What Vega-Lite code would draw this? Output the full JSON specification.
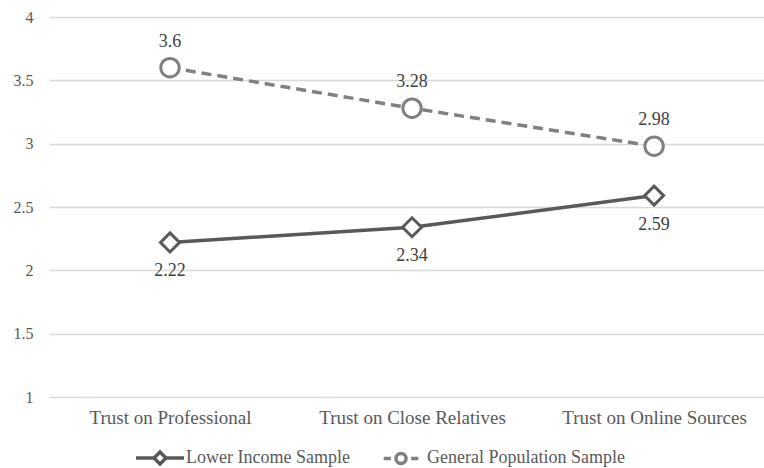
{
  "$schema": "https://vega.github.io/schema/vega-lite/v6.json",
  "width": 715,
  "height": 380,
  "autosize": {"type": "none"},
  "padding": {"left": 49, "top": 17, "right": 0, "bottom": 71},
  "background": "white",
  "config": {"view": {"stroke": null}, "font": "Liberation Serif", "legend": {"labelFont": "Liberation Serif", "labelFontSize": 18, "labelColor": "#595959"}},
  "data": {"values": [
    {"category": "Trust on Professional", "series": "Lower Income Sample", "value": 2.22},
    {"category": "Trust on Close Relatives", "series": "Lower Income Sample", "value": 2.34},
    {"category": "Trust on Online Sources", "series": "Lower Income Sample", "value": 2.59},
    {"category": "Trust on Professional", "series": "General Population Sample", "value": 3.6},
    {"category": "Trust on Close Relatives", "series": "General Population Sample", "value": 3.28},
    {"category": "Trust on Online Sources", "series": "General Population Sample", "value": 2.98}
  ]},
  "encoding": {
    "x": {
      "field": "category", "type": "nominal",
      "sort": ["Trust on Professional", "Trust on Close Relatives", "Trust on Online Sources"],
      "scale": {"type": "point", "padding": 0.477, "align": 0.524},
      "axis": {"title": null, "labelAngle": 0, "domain": false, "ticks": false, "labelPadding": 11, "labelLimit": 400, "labelFont": "Liberation Serif", "labelFontSize": 19, "labelColor": "#595959", "grid": false}
    },
    "y": {
      "field": "value", "type": "quantitative",
      "scale": {"domain": [1, 4], "nice": false, "zero": false},
      "axis": {"title": null, "values": [1, 1.5, 2, 2.5, 3, 3.5, 4], "format": "~g", "domain": false, "ticks": false, "labelPadding": 16, "labelFont": "Liberation Serif", "labelFontSize": 16, "labelColor": "#595959", "grid": true, "gridColor": "#d9d9d9", "gridWidth": 1.3}
    }
  },
  "layer": [
    {
      "transform": [{"filter": "datum.series === 'Lower Income Sample'"}],
      "mark": {"type": "line", "strokeWidth": 3.5, "color": "#595959"},
      "encoding": {}
    },
    {
      "transform": [{"filter": "datum.series === 'General Population Sample'"}],
      "mark": {"type": "line", "strokeWidth": 3.5, "color": "#808080", "strokeDash": [10, 6]},
      "encoding": {}
    },
    {
      "transform": [{"filter": "datum.series === 'Lower Income Sample'"}],
      "mark": {"type": "point", "shape": "diamond", "filled": true, "fill": "white", "stroke": "#595959", "strokeWidth": 3, "opacity": 1, "size": 360}
    },
    {
      "transform": [{"filter": "datum.series === 'General Population Sample'"}],
      "mark": {"type": "point", "shape": "circle", "filled": true, "fill": "white", "stroke": "#808080", "strokeWidth": 3, "opacity": 1, "size": 340}
    },
    {
      "mark": {"type": "point", "opacity": 0, "filled": false},
      "encoding": {
        "shape": {
          "field": "series", "type": "nominal",
          "scale": {"domain": ["Lower Income Sample", "General Population Sample"], "range": ["M-1,0L-0.25,0M0.25,0L1,0M-0.25,0L0,-0.25L0.25,0L0,0.25Z", "M-0.72,0L-0.42,0M0.42,0L0.72,0M-0.21,0A0.21,0.21 0 1,0 0.21,0A0.21,0.21 0 1,0 -0.21,0Z"]},
          "legend": {
            "orient": "none", "legendX": 85, "legendY": 415, "direction": "horizontal", "title": null,
            "labelFont": "Liberation Serif", "labelFontSize": 18, "labelColor": "#595959", "labelLimit": 400,
            "symbolSize": 2304, "symbolStrokeWidth": 3.5, "symbolOpacity": 1, "labelOffset": 0, "columnPadding": 25,
            "encode": {"symbols": {"update": {"fill": {"value": "white"}, "strokeWidth": {"value": 3.5}, "opacity": {"value": 1}}}}
          }
        },
        "color": {
          "field": "series", "type": "nominal",
          "scale": {"domain": ["Lower Income Sample", "General Population Sample"], "range": ["#595959", "#808080"]},
          "legend": {
            "orient": "none", "legendX": 85, "legendY": 415, "direction": "horizontal", "title": null,
            "labelFont": "Liberation Serif", "labelFontSize": 18, "labelColor": "#595959", "labelLimit": 400,
            "symbolSize": 2304, "symbolStrokeWidth": 3.5, "symbolOpacity": 1, "labelOffset": 0, "columnPadding": 25,
            "encode": {"symbols": {"update": {"fill": {"value": "white"}, "strokeWidth": {"value": 3.5}, "opacity": {"value": 1}}}}
          }
        }
      }
    },
    {
      "transform": [{"filter": "datum.series === 'General Population Sample'"}],
      "mark": {"type": "text", "dy": -26, "font": "Liberation Serif", "fontSize": 18, "color": "#404040"},
      "encoding": {"text": {"field": "value", "type": "quantitative", "format": "~g"}}
    },
    {
      "transform": [{"filter": "datum.series === 'Lower Income Sample'"}],
      "mark": {"type": "text", "dy": 29, "font": "Liberation Serif", "fontSize": 18, "color": "#404040"},
      "encoding": {"text": {"field": "value", "type": "quantitative", "format": "~g"}}
    }
  ]
}
